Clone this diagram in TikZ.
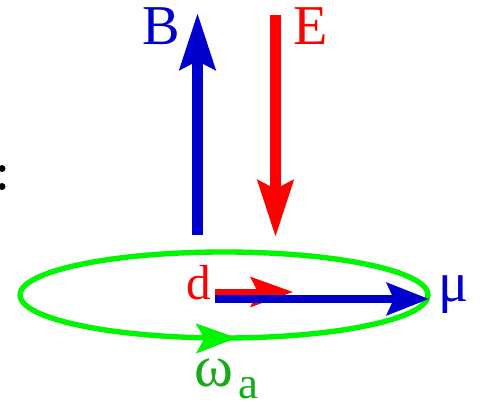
\documentclass[tikz,border=0pt]{standalone}
\usepackage{fontspec}
\setmainfont{Liberation Serif}
\usetikzlibrary{arrows.meta,decorations.markings}
\definecolor{fieldblue}{RGB}{0,0,204}
\definecolor{fieldred}{RGB}{255,0,0}
\definecolor{orbitgreen}{RGB}{0,245,0}
\definecolor{labelgreen}{RGB}{25,170,25}

\begin{document}
\begin{tikzpicture}[x=0.025cm,y=0.025cm,
  bigvec/.style={line width=7.5pt,-{Stealth[length=40pt,width=25pt,inset=6pt]}},
  smallvec/.style={line width=4.6pt,-{Stealth[length=30pt,width=21pt,inset=5pt]}},
  lbl/.style={inner sep=0pt,font=\fontsize{40}{40}\selectfont}]
  \useasboundingbox (0,0) rectangle (480,407);
  \fill (2,238.5) circle (3.5) (2,220.5) circle (3.5);
  \draw[orbitgreen,line width=3.8pt,postaction={decorate},
    decoration={markings,mark=at position 0.765 with
      {\arrow{Stealth[length=29pt,width=21pt,inset=6pt]}}}]
    (224,112) ellipse [x radius=204,y radius=43];
  \coordinate (Bfoot) at (197.5,172);
  \coordinate (Btip) at (197.5,394);
  \coordinate (Etop) at (275.5,392);
  \coordinate (Etip) at (275.5,170);
  \coordinate (dfoot) at (215,115);
  \coordinate (dtip) at (293,115);
  \coordinate (mufoot) at (215,108);
  \coordinate (mutip) at (429,108);
  \draw[bigvec,fieldblue] (Bfoot) -- (Btip);
  \draw[bigvec,fieldred] (Etop) -- (Etip);
  \draw[smallvec,fieldred] (dfoot) -- (dtip);
  \draw[smallvec,fieldblue,line width=5pt,-{Stealth[length=30pt,width=23pt,inset=5pt]}] (mufoot) -- (mutip);
  \node[lbl,fieldblue,anchor=base] (Blabel) at (161.5,362) {B};
  \node[lbl,fieldred,anchor=base] (Elabel) at (311,362) {E};
  \node[lbl,fieldred,anchor=base,font=\fontsize{35}{35}\selectfont] (dlabel) at (198.5,107) {d};
  \node[lbl,fieldblue,anchor=base] (mulabel) at (454,105) {μ};
  \node[lbl,labelgreen,anchor=base west,font=\fontsize{42}{42}\selectfont] (omegalabel) at (194,20) {ω};
  \node[lbl,labelgreen,anchor=base west,font=\fontsize{32}{32}\selectfont] (alabel) at (238,8) {a};
\end{tikzpicture}
\end{document}
